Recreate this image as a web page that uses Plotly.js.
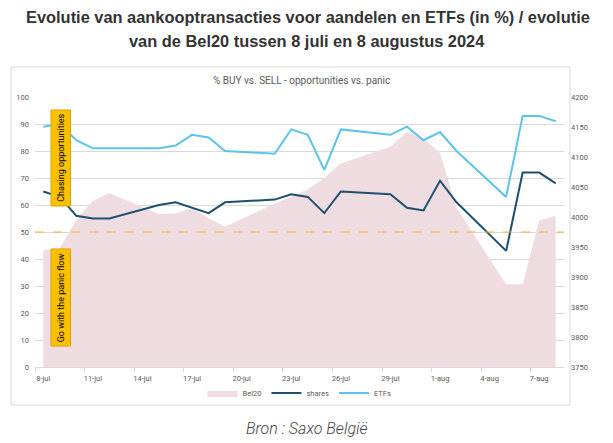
<!DOCTYPE html>
<html>
<head>
<meta charset="utf-8">
<script src="https://cdn.plot.ly/plotly-3.0.1.min.js"></script>
<style>html,body{margin:0;padding:0;background:#fff;}#chart{width:613px;height:443px;}</style>
</head>
<body>
<div id="chart"></div>
<script>
// ---- data ----
const dates = ['2024-07-08','2024-07-09','2024-07-10','2024-07-11','2024-07-12',
  '2024-07-15','2024-07-16','2024-07-17','2024-07-18','2024-07-19',
  '2024-07-22','2024-07-23','2024-07-24','2024-07-25','2024-07-26',
  '2024-07-29','2024-07-30','2024-07-31','2024-08-01','2024-08-02',
  '2024-08-05','2024-08-06','2024-08-07','2024-08-08'];
const bel20 = [3945,3948,3995,4027,4040,4005,4006,4015,3998,3984,4022,4034,4046,4065,4089,4117,4142,4130,4107,4015,3888,3888,3994,4002];
const shares = [65,63,56,55,55,60,61,59,57,61,62,64,63,57,65,64,59,58,69,61,43,72,72,68];
const etfs = [89,90,84,81,81,81,82,86,85,80,79,88,86,73,88,86,89,84,87,80,63,93,93,91];
const tickDates = ['2024-07-08','2024-07-11','2024-07-14','2024-07-17','2024-07-20','2024-07-23','2024-07-26','2024-07-29','2024-08-01','2024-08-04','2024-08-07'];
const tickLabels = ['8-jul','11-jul','14-jul','17-jul','20-jul','23-jul','26-jul','29-jul','1-aug','4-aug','7-aug'];
const threshold = 50;
const seriesNames = ['Bel20','shares','ETFs'];

// ---- helpers (layout only) ----
const L = 35, R = 564, T = 97, B = 367;
const px2x = p => (p - L) / (R - L);
const py2y = p => (B - p) / (B - T);
function halfDayBefore(d){
  const t = new Date(d + 'T00:00:00Z').getTime() - 12*3600*1000;
  const z = new Date(t);
  const pad = n => String(n).padStart(2,'0');
  return z.getUTCFullYear()+'-'+pad(z.getUTCMonth()+1)+'-'+pad(z.getUTCDate())+' 12:00';
}
const boundaryTicks = tickDates.map(halfDayBefore);

const axisFont = {family:'Roboto, Liberation Sans, sans-serif', size:7.5, color:'#595959'};

const traces = [
  {x: dates, y: bel20, name: seriesNames[0], type:'scatter', mode:'lines', yaxis:'y',
   fill:'tozeroy', fillcolor:'#efdce1', line:{width:0, color:'#efdce1'}, hoverinfo:'x+y'},
  {x: dates, y: shares, name: seriesNames[1], type:'scatter', mode:'lines', yaxis:'y2',
   line:{color:'#1d4f6e', width:2}},
  {x: dates, y: etfs, name: seriesNames[2], type:'scatter', mode:'lines', yaxis:'y2',
   line:{color:'#5cc3ea', width:2}}
];

const layout = {
  width: 613, height: 443,
  margin: {l: L, r: 613 - R, t: T, b: 443 - B, pad: 0},
  paper_bgcolor: '#ffffff', plot_bgcolor: '#ffffff',
  showlegend: true,
  legend: {orientation:'h', x:0.5, xanchor:'center', y: py2y(393), yanchor:'middle',
    font: axisFont, itemwidth: 30, tracegroupgap: 0, bgcolor:'rgba(0,0,0,0)'},
  xaxis: {type:'date', range:['2024-07-07 12:00','2024-08-08 12:00'],
    tickmode:'array', tickvals: tickDates, ticktext: tickLabels, ticks:'',
    showgrid:false, zeroline:false, showline:true, linecolor:'#d9d9d9', linewidth:1,
    tickfont: axisFont, ticklabelstandoff: 4,
    minor: {tickmode:'array', tickvals: boundaryTicks, ticks:'outside', ticklen:4, tickcolor:'#d9d9d9', tickwidth:1, showgrid:false}},
  yaxis: {side:'right', range:[3750,4200], tickmode:'linear', tick0:3750, dtick:50,
    showgrid:false, zeroline:false, showline:false, ticks:'', tickfont: axisFont, ticklabelstandoff: 6},
  yaxis2: {overlaying:'y', side:'left', range:[0,100], tickmode:'linear', tick0:0, dtick:10,
    showgrid:true, gridcolor:'#d9d9d9', gridwidth:1, zeroline:false, showline:false, ticks:'',
    tickfont: axisFont, ticklabelstandoff: 5},
  shapes: [
    {type:'rect', xref:'paper', yref:'paper', x0:px2x(11), x1:px2x(570), y0:py2y(405), y1:py2y(67),
     line:{color:'#d9d9d9', width:1}, fillcolor:'rgba(0,0,0,0)', layer:'below'},
    {type:'line', xref:'paper', yref:'y2', x0:0, x1:1, y0:threshold, y1:threshold,
     line:{color:'#f2b33d', width:1.2, dash:'dash'}},
    {type:'rect', xref:'paper', yref:'paper', x0:px2x(51), x1:px2x(70.5), y0:py2y(206), y1:py2y(110),
     line:{color:'#d9a400', width:1}, fillcolor:'#ffc000'},
    {type:'rect', xref:'paper', yref:'paper', x0:px2x(51), x1:px2x(70.5), y0:py2y(346), y1:py2y(249),
     line:{color:'#d9a400', width:1}, fillcolor:'#ffc000'}
  ],
  annotations: [
    {text:'Evolutie van aankooptransacties voor aandelen en ETFs (in %) / evolutie', xref:'paper', yref:'paper',
     x:px2x(308), y:py2y(17), xanchor:'center', yanchor:'middle', showarrow:false,
     font:{family:'Liberation Sans, Arial, sans-serif', size:16.4, color:'#333333', weight:'bold'}},
    {text:'van de Bel20 tussen 8 juli en 8 augustus 2024', xref:'paper', yref:'paper',
     x:px2x(307), y:py2y(41), xanchor:'center', yanchor:'middle', showarrow:false,
     font:{family:'Liberation Sans, Arial, sans-serif', size:16.4, color:'#333333', weight:'bold'}},
    {text:'% BUY vs. SELL - opportunities vs. panic', xref:'paper', yref:'paper',
     x:px2x(301.5), y:py2y(80), xanchor:'center', yanchor:'middle', showarrow:false,
     font:{family:'Roboto, Liberation Sans, sans-serif', size:10, color:'#595959'}},
    {text:'Chasing opportunities', xref:'paper', yref:'paper', x:px2x(60.8), y:py2y(158),
     xanchor:'center', yanchor:'middle', showarrow:false, textangle:-90,
     font:{family:'Roboto, Liberation Sans, sans-serif', size:9, color:'#000000'}},
    {text:'Go with the panic flow', xref:'paper', yref:'paper', x:px2x(60.8), y:py2y(297.5),
     xanchor:'center', yanchor:'middle', showarrow:false, textangle:-90,
     font:{family:'Roboto, Liberation Sans, sans-serif', size:9, color:'#000000'}},
    {text:'Bron : Saxo België', xref:'paper', yref:'paper', x:px2x(307), y:py2y(428),
     xanchor:'center', yanchor:'middle', showarrow:false,
     font:{family:'Roboto, Liberation Sans, sans-serif', size:16, color:'#444444', style:'italic', weight:300}}
  ]
};

Plotly.newPlot('chart', traces, layout, {displayModeBar:false, staticPlot:true});
</script>
</body>
</html>
